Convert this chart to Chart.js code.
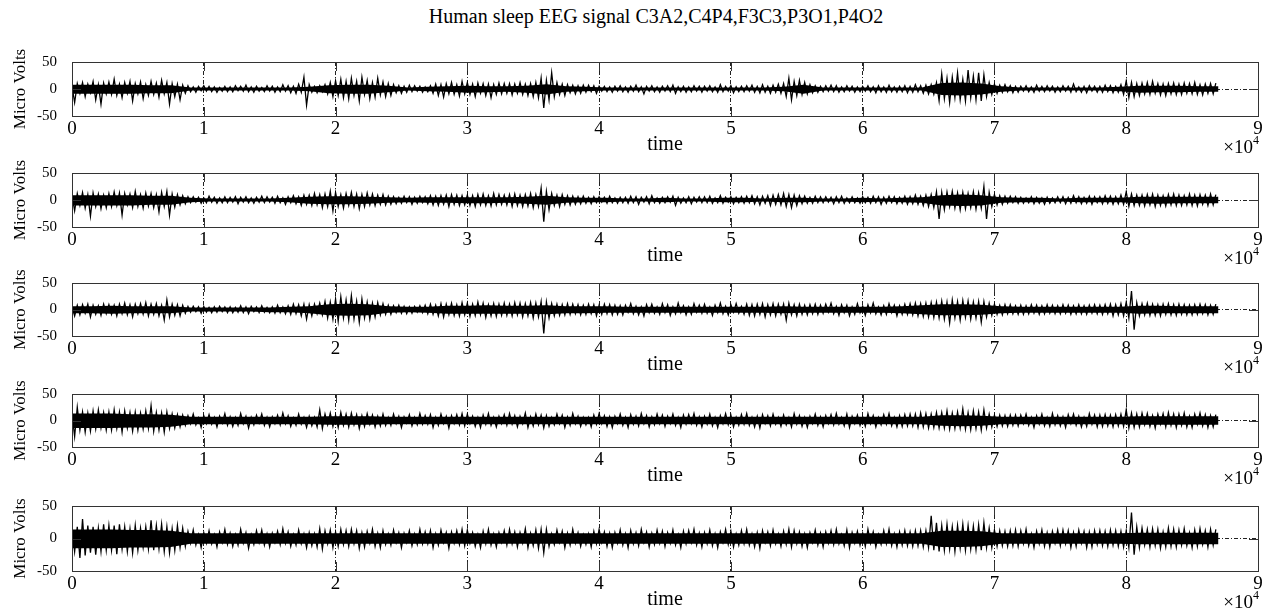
<!DOCTYPE html>
<html>
<head>
<meta charset="utf-8">
<title>Human sleep EEG signal</title>
<script src="https://cdn.jsdelivr.net/npm/chart.js@4.4.1/dist/chart.umd.min.js"></script>
<style>
    html, body { margin: 0; padding: 0; background: #fff; }
    #figura { position: relative; width: 1267px; height: 613px; overflow: hidden; font-family: 'Liberation Serif', 'Times New Roman', serif; }
    #titulo { position: absolute; left: 0; width: 1312px; top: 5px; text-align: center; font-size: 20px; color: #000; white-space: nowrap; }
    canvas { position: absolute; left: 0; }
</style>
</head>
<body>
<div id="figura">
    <div id="titulo">Human sleep EEG signal C3A2,C4P4,F3C3,P3O1,P4O2</div>
</div>
<script>
// one sample every 200 points of the time axis, 435 samples per channel
// (each row below covers 0.3 x 10^4 of time)
const sampleStep = 200;
// dense part of the trace (upper / lower edge), one value every 1500 points
const coreStep = 1500;
const xTicks = [0, 1, 2, 3, 4, 5, 6, 7, 8, 9];
const yTicks = [-50, 0, 50];
const canales = ['C3A2', 'C4P4', 'F3C3', 'P3O1', 'P4O2'];

const c3a2 = [
    5,-25,10,-8,12,-14,9,-7,14,-20,8,-28,11,-9,13,
    -10,18,-12,9,-16,12,-8,14,-22,10,-9,13,-18,8,-12,
    14,-10,11,-15,16,-9,12,-28,10,-14,9,-20,7,-8,6,
    -5,4,-6,5,-3,6,-4,5,-5,4,-6,3,-4,5,-5,
    4,-5,6,-3,5,-4,7,-5,4,-6,5,-4,3,-5,6,
    -4,5,-6,4,-5,8,-4,6,-7,5,-8,9,-6,22,-30,
    8,-6,5,-7,6,-5,8,-9,12,-14,15,-12,18,-16,14,
    -18,20,-12,14,-22,22,-10,16,-18,12,-15,20,-11,13,-14,
    10,-12,8,-7,6,-8,5,-6,7,-5,6,-4,5,-6,4,
    -5,6,-8,9,-12,8,-15,10,-9,12,-10,8,-13,14,-9,
    12,-10,9,-14,11,-8,10,-12,9,-16,8,-10,11,-9,10,
    -8,10,-11,9,-8,12,-10,9,-12,10,-14,12,-16,20,-35,
    16,-20,30,-14,12,-10,9,-12,8,-7,7,-9,6,-8,7,
    -6,7,-5,6,-8,5,-4,5,-5,4,-6,5,-4,6,-5,
    4,-6,5,-4,7,-5,4,-9,5,-4,6,-5,4,-6,5,
    -4,6,-5,7,-8,4,-5,5,-6,4,-5,6,-4,5,-6,
    5,-4,6,-5,4,-6,8,-5,5,-4,6,-7,4,-5,5,
    -5,6,-4,7,-6,5,-7,8,-6,5,-8,7,-6,9,-8,
    10,-14,20,-20,14,-12,16,-10,12,-9,8,-7,6,-6,5,
    -5,6,-4,7,-5,6,-6,4,-5,6,-4,5,-6,4,-5,
    5,-4,6,-5,4,-7,6,-5,4,-6,7,-5,4,-6,5,
    -5,6,-7,5,-6,8,-5,6,-8,7,-9,8,-10,12,-22,
    28,-18,20,-25,22,-16,30,-20,18,-22,35,-16,24,-20,30,
    -22,26,-14,12,-10,9,-8,7,-6,8,-5,6,-7,5,-6,
    5,-4,6,-5,4,-6,7,-4,5,-5,6,-4,5,-6,4,
    -5,6,-4,5,-6,9,-5,4,-6,5,-7,6,-4,5,-6,
    5,-6,7,-5,6,-7,5,-6,8,-10,15,-16,12,-14,10,
    -12,11,-9,12,-10,14,-8,10,-11,9,-12,10,-9,11,-10,
    9,-10,11,-8,10,-9,12,-10,8,-11,9,-8,10,-9,11
];
const c3a2Alto = [
    8,8,8,8,7,7,3,3,3,3,
    3,3,4,7,8,8,6,3,4,5,
    6,5,5,6,9,5,4,3,3,3,
    3,3,3,3,3,3,4,8,3,3,
    3,3,3,3,11,12,10,5,3,3,
    3,3,3,4,6,6,6,5,5
];
const c3a2Bajo = [
    -9,-9,-9,-9,-8,-8,-3,-3,-3,-3,
    -3,-3,-4,-8,-9,-9,-6,-3,-4,-5,
    -7,-6,-5,-7,-10,-5,-4,-3,-3,-3,
    -3,-3,-3,-3,-3,-3,-4,-9,-3,-3,
    -3,-3,-3,-3,-11,-12,-10,-5,-3,-3,
    -3,-3,-3,-4,-7,-6,-6,-5,-5
];

const c4p4 = [
    8,-20,12,-10,14,-15,10,-30,13,-12,11,-16,9,-14,12,
    -12,15,-10,13,-28,12,-9,11,-14,16,-12,10,-15,13,-11,
    12,-14,10,-22,14,-12,16,-28,11,-13,10,-9,8,-7,6,
    -5,6,-4,5,-6,4,-5,7,-4,5,-6,4,-5,6,-5,
    5,-4,6,-7,5,-4,6,-5,4,-6,5,-4,7,-5,6,
    -4,5,-6,7,-5,4,-8,6,-5,8,-7,6,-10,9,-8,
    9,-10,12,-9,10,-14,11,-12,16,-20,14,-12,10,-15,12,
    -10,14,-12,11,-16,10,-12,13,-9,11,-10,9,-8,10,-9,
    7,-8,6,-7,5,-6,7,-5,6,-8,5,-6,7,-5,6,
    -7,8,-9,7,-10,8,-8,9,-12,10,-8,9,-10,8,-9,
    9,-10,8,-12,10,-9,11,-10,8,-11,12,-9,10,-8,9,
    -9,10,-12,11,-10,9,-12,10,-11,12,-14,10,-12,22,-40,
    16,-18,12,-10,9,-12,10,-8,8,-9,7,-8,6,-7,7,
    -6,5,-7,6,-5,6,-4,5,-6,7,-5,4,-6,5,-5,
    5,-6,7,-5,6,-8,5,-4,6,-7,8,-5,4,-6,5,
    -5,6,-4,7,-10,5,-6,4,-5,6,-7,5,-4,6,-5,
    6,-5,7,-6,4,-5,8,-6,5,-4,6,-7,5,-5,6,
    -6,7,-5,8,-7,6,-9,7,-6,8,-10,9,-8,10,-9,
    12,-12,10,-14,9,-10,8,-7,7,-6,5,-6,7,-5,6,
    -5,6,-4,5,-7,6,-5,7,-6,4,-5,6,-5,4,-6,
    6,-5,5,-6,7,-5,6,-8,5,-6,7,-5,6,-7,5,
    -6,7,-8,6,-7,9,-8,7,-10,9,-12,10,-14,15,-35,
    14,-18,15,-12,16,-15,13,-18,14,-16,12,-14,15,-17,13,
    -15,25,-35,14,-12,10,-9,8,-8,7,-6,7,-5,6,-6,
    5,-6,4,-5,6,-7,5,-6,4,-8,5,-6,4,-5,6,
    -5,6,-7,5,-6,8,-5,6,-7,5,-6,7,-8,6,-5,
    6,-7,8,-6,7,-8,6,-7,9,-8,15,-12,11,-10,9,
    -10,9,-11,10,-9,11,-12,9,-10,8,-11,10,-9,11,-10,
    9,-10,8,-9,11,-10,9,-11,10,-8,9,-10,11,-9,10
];
const c4p4Alto = [
    9,9,9,9,8,8,4,3,3,3,
    3,4,6,7,7,6,5,4,5,5,
    5,5,5,6,8,5,4,4,3,3,
    4,3,3,4,4,3,4,4,3,3,
    4,3,4,5,9,10,9,5,4,4,
    3,4,4,4,6,6,6,6,6
];
const c4p4Bajo = [
    -10,-10,-10,-10,-9,-9,-4,-3,-3,-3,
    -3,-4,-7,-8,-8,-7,-5,-4,-5,-5,
    -6,-6,-5,-7,-9,-5,-4,-4,-3,-3,
    -4,-3,-3,-4,-4,-3,-4,-4,-3,-3,
    -4,-3,-4,-5,-10,-11,-10,-5,-4,-4,
    -3,-4,-4,-4,-6,-7,-6,-6,-6
];

const f3c3 = [
    6,-12,8,-10,9,-7,10,-14,8,-9,7,-11,10,-8,9,
    -9,8,-12,10,-8,12,-10,9,-14,10,-8,11,-9,13,-12,
    10,-9,11,-12,8,-20,18,-14,10,-11,9,-12,8,-7,6,
    -5,6,-4,5,-7,6,-5,4,-6,5,-5,6,-4,5,-6,
    5,-6,4,-5,7,-6,5,-8,6,-4,5,-6,7,-5,4,
    -6,5,-7,8,-6,5,-8,7,-9,10,-8,9,-12,10,-18,
    9,-12,10,-8,12,-10,15,-16,14,-18,20,-22,24,-16,18,
    -20,26,-18,16,-24,20,-16,14,-18,12,-14,13,-10,11,-9,
    8,-9,7,-6,8,-7,6,-8,5,-7,6,-5,7,-6,8,
    -8,10,-9,8,-12,11,-14,10,-10,12,-11,9,-12,13,-10,
    12,-13,10,-11,14,-10,12,-15,9,-12,11,-13,10,-11,12,
    -11,10,-12,13,-10,12,-14,11,-12,13,-16,12,-14,15,-45,
    14,-16,11,-12,10,-11,9,-10,11,-9,10,-8,9,-10,8,
    -9,10,-8,9,-12,8,-9,10,-8,9,-10,8,-9,7,-10,
    8,-5,11,-8,6,-10,5,-12,9,-6,10,-7,5,-9,11,
    -6,9,-11,5,-8,12,-6,7,-10,5,-9,11,-5,8,-7,
    10,-7,5,-11,8,-6,12,-8,6,-10,9,-5,11,-7,6,
    -9,10,-11,9,-12,10,-9,11,-14,9,-10,11,-12,10,-9,
    10,-20,12,-10,9,-12,10,-9,8,-10,9,-8,10,-9,8,
    -7,10,-5,12,-8,6,-11,9,-6,8,-12,5,-9,11,-6,
    6,-11,9,-6,12,-8,5,-10,7,-9,11,-6,8,-12,7,
    -9,10,-9,11,-10,12,-12,11,-13,12,-14,13,-15,14,-16,
    16,-18,14,-25,18,-16,15,-20,17,-15,16,-18,14,-16,15,
    -24,15,-14,12,-11,10,-9,8,-10,9,-8,9,-8,7,-9,
    8,-9,7,-8,9,-7,8,-9,7,-8,9,-7,8,-8,7,
    -8,9,-7,8,-9,7,-8,9,-8,7,-9,8,-7,9,-8,
    8,-9,9,-8,10,-12,9,-10,11,-12,14,-16,35,-38,13,
    -12,11,-10,12,-11,10,-11,9,-12,10,-9,11,-10,9,-11,
    10,-9,9,-10,8,-10,9,-9,10,-8,9,-10,8,-9,10
];
const f3c3Alto = [
    6,6,7,6,6,6,4,4,4,4,
    4,5,6,10,11,10,6,5,5,7,
    7,8,7,7,8,6,6,6,5,5,
    5,5,5,5,5,5,6,5,5,5,
    5,5,6,8,10,10,9,6,5,5,
    5,5,5,5,7,7,6,6,6
];
const f3c3Bajo = [
    -7,-7,-8,-7,-7,-7,-4,-4,-4,-4,
    -5,-5,-7,-11,-12,-11,-6,-5,-6,-8,
    -8,-8,-8,-8,-9,-7,-7,-6,-6,-6,
    -6,-6,-6,-6,-6,-6,-7,-6,-6,-6,
    -6,-6,-7,-9,-11,-11,-10,-7,-6,-6,
    -6,-6,-6,-6,-8,-7,-7,-7,-7
];

const p3o1 = [
    12,-30,25,-18,16,-22,14,-20,18,-16,20,-14,15,-18,16,
    -18,20,-15,16,-22,18,-14,15,-20,16,-18,14,-16,18,-15,
    28,-20,15,-18,14,-22,16,-15,12,-14,11,-12,10,-9,9,
    -6,12,-8,5,-13,9,-6,11,-7,6,-12,8,-5,13,-9,
    7,-11,6,-9,13,-6,8,-14,6,-8,10,-5,12,-9,6,
    -12,7,-6,10,-8,14,-6,9,-11,5,-9,12,-7,6,-13,
    8,-10,6,-12,20,-15,12,-8,14,-11,10,-13,15,-9,12,
    -12,14,-8,11,-15,9,-11,13,-7,10,-12,8,-10,12,-9,
    6,-9,12,-6,8,-13,7,-5,11,-10,6,-8,13,-7,9,
    -7,11,-13,6,-9,12,-6,8,-14,9,-6,11,-8,13,-10,
    12,-6,8,-11,6,-13,10,-7,13,-9,6,-12,8,-6,11,
    -9,13,-7,9,-12,8,-6,14,-13,7,-10,12,-8,10,-14,
    9,-11,6,-8,12,-6,10,-13,7,-9,13,-6,8,-11,6,
    -8,6,-12,10,-7,13,-6,9,-11,7,-13,8,-6,12,-9,
    6,-13,11,-7,8,-10,13,-6,9,-12,7,-8,12,-6,10,
    -11,8,-6,12,-9,6,-13,10,-7,11,-6,13,-9,7,-12,
    8,-7,12,-10,6,-13,9,-6,13,-8,10,-12,6,-9,11,
    -7,13,-9,6,-12,8,-14,11,-6,9,-10,12,-7,6,-11,
    10,-8,6,-12,13,-7,9,-11,6,-13,8,-6,12,-9,7,
    -12,9,-6,11,-8,13,-7,6,-10,12,-13,8,-6,10,-9,
    7,-11,13,-6,9,-12,6,-8,11,-7,13,-10,6,-12,9,
    -11,11,-10,12,-10,12,-13,14,-12,13,-14,12,-13,15,-14,
    15,-14,18,-16,14,-15,16,-14,22,-16,15,-17,18,-15,16,
    -18,20,-14,12,-12,10,-11,10,-10,9,-11,10,-9,10,-10,
    10,-6,12,-9,6,-13,9,-7,12,-10,6,-11,13,-8,9,
    -10,7,-13,11,-6,12,-9,8,-12,6,-11,13,-7,10,-12,
    10,-11,11,-10,10,-12,11,-10,12,-11,20,-14,14,-13,12,
    -12,14,-8,13,-11,9,-14,12,-7,13,-12,15,-9,12,-13,
    12,-9,14,-12,8,-13,12,-7,14,-10,11,-13,9,-12,11
];
const p3o1Alto = [
    13,13,13,12,12,11,7,7,7,7,
    7,7,7,8,8,8,7,7,7,7,
    7,7,7,7,7,7,7,7,7,7,
    7,7,7,7,7,7,7,7,7,7,
    7,7,7,7,10,10,9,7,7,7,
    7,7,7,7,8,8,8,8,8
];
const p3o1Bajo = [
    -14,-14,-14,-13,-13,-12,-7,-7,-7,-7,
    -7,-7,-7,-8,-8,-8,-7,-7,-7,-7,
    -7,-7,-7,-7,-7,-7,-7,-7,-7,-7,
    -7,-7,-7,-7,-7,-7,-7,-7,-7,-7,
    -7,-7,-7,-7,-10,-11,-10,-7,-7,-7,
    -7,-7,-7,-7,-8,-8,-8,-8,-8
];

const p4o2 = [
    15,-20,18,-30,30,-26,20,-22,18,-25,16,-20,22,-18,20,
    -18,20,-24,22,-16,18,-20,15,-22,20,-18,16,-14,18,-16,
    28,-18,20,-16,22,-20,18,-22,15,-18,20,-14,16,-12,11,
    -7,13,-10,6,-14,9,-7,12,-8,6,-13,10,-6,14,-9,
    8,-12,6,-10,14,-7,9,-15,6,-9,12,-6,13,-10,7,
    -13,8,-6,11,-9,15,-7,10,-12,6,-10,13,-8,7,-14,
    9,-11,7,-13,15,-16,12,-8,13,-14,10,-12,14,-9,12,
    -12,14,-8,12,-15,9,-13,11,-7,14,-12,8,-14,12,-9,
    7,-10,13,-6,9,-14,8,-6,12,-11,7,-9,14,-8,10,
    -8,12,-14,7,-10,13,-6,9,-15,10,-7,12,-9,14,-11,
    13,-7,9,-12,6,-14,11,-8,14,-10,7,-13,9,-6,12,
    -10,14,-8,10,-13,9,-7,15,-14,8,-11,13,-15,14,-22,
    14,-12,7,-9,13,-6,11,-14,8,-10,14,-7,9,-12,6,
    -9,7,-13,11,-8,14,-6,10,-12,8,-14,9,-7,13,-10,
    7,-14,12,-8,9,-11,14,-6,10,-13,8,-9,13,-7,11,
    -12,9,-7,13,-10,6,-14,11,-8,12,-6,14,-10,8,-13,
    9,-8,13,-11,7,-14,10,-6,14,-9,11,-13,7,-10,12,
    -8,14,-10,7,-13,9,-15,12,-6,10,-11,13,-8,7,-12,
    11,-9,14,-13,12,-8,10,-12,7,-14,9,-6,13,-10,8,
    -13,10,-7,12,-9,14,-8,6,-11,13,-14,9,-7,11,-10,
    8,-12,14,-7,10,-13,6,-9,12,-8,14,-11,7,-13,10,
    -10,12,-11,10,-12,12,-11,12,-13,12,-14,35,-18,24,-20,
    20,-18,22,-16,18,-20,20,-15,22,-18,20,-16,19,-17,21,
    -18,24,-14,16,-14,13,-12,12,-11,11,-12,12,-11,13,-12,
    12,-8,14,-11,7,-14,11,-8,13,-12,9,-13,11,-7,13,
    -11,13,-8,12,-14,9,-12,13,-7,11,-14,10,-13,12,-9,
    12,-11,11,-12,13,-10,12,-12,11,-13,12,-14,40,-25,18,
    -14,16,-10,14,-13,15,-11,14,-15,10,-13,16,-12,14,-13,
    13,-10,15,-11,9,-14,13,-12,15,-9,12,-13,14,-10,14
];
const p4o2Alto = [
    14,14,14,13,13,12,8,8,8,8,
    8,8,8,8,8,8,8,8,8,8,
    8,8,8,8,8,8,8,8,8,8,
    8,8,8,8,8,8,8,8,8,8,
    8,8,8,8,12,12,11,8,8,8,
    8,8,8,8,9,9,9,9,9
];
const p4o2Bajo = [
    -15,-15,-15,-14,-14,-13,-8,-8,-8,-8,
    -8,-8,-8,-8,-8,-8,-8,-8,-8,-8,
    -8,-8,-8,-8,-8,-8,-8,-8,-8,-8,
    -8,-8,-8,-8,-8,-8,-8,-8,-8,-8,
    -8,-8,-8,-8,-13,-13,-12,-8,-8,-8,
    -8,-8,-8,-8,-9,-9,-9,-9,-9
];

const senales = [c3a2, c4p4, f3c3, p3o1, p4o2];
const nucleoAlto = [c3a2Alto, c4p4Alto, f3c3Alto, p3o1Alto, p4o2Alto];
const nucleoBajo = [c3a2Bajo, c4p4Bajo, f3c3Bajo, p3o1Bajo, p4o2Bajo];

// plot boxes (top / bottom of each axes, in page pixels)
const cajas = [
    { top: 48, bottom: 116 },
    { top: 159, bottom: 227 },
    { top: 269, bottom: 336 },
    { top: 380, bottom: 447 },
    { top: 492, bottom: 571 }
];
const ancho = 1267;
const izq = 72;          // left edge of the axes
const der = 1258;        // right edge of the axes
const margenSup = 10;
const altoEjeX = 42;

const fuente = "'Liberation Serif', 'Times New Roman', serif";
const colorCaja = '#333';

// closed box + inward ticks, like a classic plot frame
const marcoPlugin = {
    id: 'marco',
    afterDraw(chart) {
        const { ctx, chartArea: a, scales } = chart;
        const largo = 9;
        ctx.save();
        ctx.strokeStyle = colorCaja;
        ctx.lineWidth = 1;
        ctx.setLineDash([]);
        ctx.beginPath();
        xTicks.forEach(t => {
            const px = Math.round(scales.x.getPixelForValue(t * 10000)) + 0.5;
            ctx.moveTo(px, a.top); ctx.lineTo(px, a.top + largo);
            ctx.moveTo(px, a.bottom); ctx.lineTo(px, a.bottom - largo);
        });
        yTicks.forEach(t => {
            const py = Math.round(scales.y.getPixelForValue(t)) + 0.5;
            ctx.moveTo(a.left, py); ctx.lineTo(a.left + largo, py);
            ctx.moveTo(a.right, py); ctx.lineTo(a.right - largo, py);
        });
        ctx.stroke();
        ctx.strokeRect(Math.round(a.left) + 0.5, Math.round(a.top) + 0.5,
            Math.round(a.right - a.left), Math.round(a.bottom - a.top));

        // exponent of the time axis
        ctx.fillStyle = '#000';
        ctx.textBaseline = 'alphabetic';
        ctx.textAlign = 'right';
        ctx.font = '19px ' + fuente;
        const base = a.bottom + 37;
        ctx.fillText('\u00d710', 1253, base);
        ctx.textAlign = 'left';
        ctx.font = '12px ' + fuente;
        ctx.fillText('4', 1253, base - 9);
        ctx.restore();
    }
};

const figura = document.getElementById('figura');

senales.forEach((senal, n) => {
    const caja = cajas[n];
    const canvas = document.createElement('canvas');
    const alto = (caja.bottom - caja.top) + margenSup + altoEjeX;
    canvas.width = ancho;
    canvas.height = alto;
    canvas.style.top = (caja.top - margenSup) + 'px';
    canvas.style.width = ancho + 'px';
    canvas.style.height = alto + 'px';
    canvas.setAttribute('aria-label', canales[n]);
    figura.appendChild(canvas);

    const puntos = senal.map((v, i) => ({ x: i * sampleStep, y: v }));
    const bordeAlto = nucleoAlto[n].map((v, i) => ({ x: i * coreStep, y: v }));
    const bordeBajo = nucleoBajo[n].map((v, i) => ({ x: i * coreStep, y: v }));

    new Chart(canvas.getContext('2d'), {
        type: 'line',
        data: {
            datasets: [
                {
                    label: canales[n] + ' nucleo',
                    data: bordeAlto,
                    borderWidth: 0,
                    backgroundColor: '#000',
                    pointRadius: 0,
                    fill: '+1'
                },
                {
                    label: canales[n] + ' nucleo bajo',
                    data: bordeBajo,
                    borderWidth: 0,
                    pointRadius: 0,
                    fill: false
                },
                {
                    label: canales[n],
                    data: puntos,
                    borderColor: '#000',
                    borderWidth: 1.3,
                    pointRadius: 0,
                    tension: 0,
                    fill: false
                }
            ]
        },
        options: {
            responsive: false,
            animation: false,
            events: [],
            layout: { padding: { top: margenSup, right: ancho - der, left: 0, bottom: 0 } },
            plugins: { legend: { display: false }, tooltip: { enabled: false } },
            scales: {
                x: {
                    type: 'linear',
                    min: 0,
                    max: 90000,
                    afterFit(scale) { scale.height = altoEjeX; },
                    afterBuildTicks(scale) { scale.ticks = xTicks.map(t => ({ value: t * 10000 })); },
                    ticks: {
                        color: '#000',
                        padding: 2,
                        maxRotation: 0,
                        autoSkip: false,
                        font: { family: fuente, size: 19 },
                        callback: v => String(v / 10000)
                    },
                    grid: { color: '#222', lineWidth: 1, drawTicks: false },
                    border: { display: true, color: colorCaja, dash: [4, 2, 1, 2] },
                    title: {
                        display: true,
                        text: 'time',
                        color: '#000',
                        font: { family: fuente, size: 20 },
                        padding: { top: 0, bottom: 1 }
                    }
                },
                y: {
                    min: -50,
                    max: 50,
                    afterFit(scale) { scale.width = izq; },
                    afterBuildTicks(scale) { scale.ticks = yTicks.map(t => ({ value: t })); },
                    ticks: {
                        color: '#000',
                        padding: 15,
                        font: { family: fuente, size: 15 }
                    },
                    grid: { color: '#222', lineWidth: 1, drawTicks: false },
                    border: { display: true, color: colorCaja, dash: [4, 2, 1, 2] },
                    title: {
                        display: true,
                        text: 'Micro Volts',
                        color: '#000',
                        font: { family: fuente, size: 17 },
                        padding: { top: 10, bottom: 0 }
                    }
                }
            }
        },
        plugins: [marcoPlugin]
    });
});
</script>
</body>
</html>
